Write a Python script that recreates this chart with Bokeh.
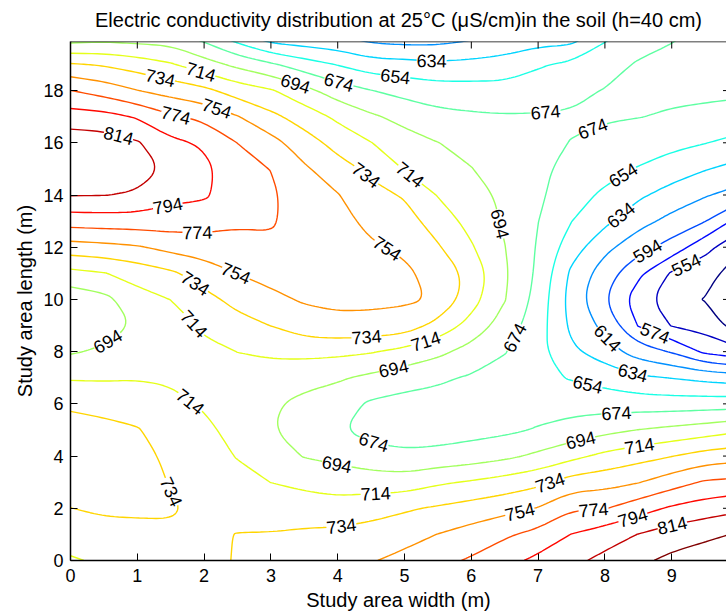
import math
import numpy as np
import contourpy
from bokeh.plotting import figure
from bokeh.models import Range1d, FixedTicker, ColumnDataSource, Span
from bokeh.embed import file_html
from bokeh.resources import INLINE
from bokeh.core.properties import value

# ---------------- data ----------------
TITLE = "Electric conductivity distribution at 25\u00b0C (\u03bcS/cm)in the soil (h=40 cm)"
x_pos = [0.0, 0.5, 1.0, 1.5, 2.0, 2.5, 3.0, 3.5, 4.0, 4.5, 5.0,
         5.5, 6.0, 6.5, 7.0, 7.5, 8.0, 8.5, 9.0, 9.5, 10.0]
y_pos = [0, 1, 2, 3, 4, 5, 6, 7, 8, 9, 10, 11, 12, 13, 14, 15, 16, 17, 18, 19, 20]
levels = [534, 554, 574, 594, 614, 634, 654, 674, 694, 714, 734, 754, 774, 794, 814, 834]
x_ticks = [0, 1, 2, 3, 4, 5, 6, 7, 8, 9]
y_ticks = [0, 2, 4, 6, 8, 10, 12, 14, 16, 18]

# EC (uS/cm) along each x position, listed for y = 0 .. 20 m
col_x0_0 = [712, 723, 733.8, 740, 742, 739, 732, 712, 692, 680, 681, 708, 745.5, 783, 815, 833, 826, 803, 774.2, 736, 685]
col_x0_5 = [717, 727, 737, 742, 744, 740, 727, 712, 697, 686, 688, 713, 748, 784.5, 814.5, 829, 824, 801, 765.5, 732, 688]
col_x1_0 = [721, 729, 737, 742, 743, 735.5, 724, 713, 705, 696, 706, 722, 752, 784.5, 812, 822, 816, 792, 754.5, 725, 686]
col_x1_5 = [726, 731, 736, 733, 728, 723, 718, 712, 704, 703, 714.3, 730.5, 760, 784, 800, 810, 799, 777, 746, 716, 685]
col_x2_0 = [730, 731, 729, 726, 722, 718, 712, 707, 709, 717.5, 728, 743, 764, 782, 797, 799, 791, 769, 739, 702.5, 669]
col_x2_5 = [735, 734.5, 727.5, 720, 713, 708, 705, 708, 714.2, 727, 740, 754.3, 767, 777, 782, 781, 773.8, 755, 725, 689, 646]
col_x3_0 = [739, 735, 724.5, 713.8, 703, 695.5, 697, 706, 717, 734.3, 749.5, 760, 769, 777, 778, 773.5, 761, 739, 716, 677, 625]
col_x3_5 = [743.5, 737, 724, 709, 693, 683, 688, 701.5, 719, 745, 756, 760, 762, 762, 760, 757, 743, 725, 700, 663.5, 621]
col_x4_0 = [748, 738.5, 723, 704.5, 689, 676, 682.5, 696.5, 718.5, 749, 758, 760, 760.5, 759, 755, 742, 727, 710, 684, 653, 618]
col_x4_5 = [752.5, 741.5, 726.5, 704, 682, 667, 671, 689.5, 715.5, 748, 758, 758, 756, 750, 740.5, 729.5, 714.5, 697, 674.5, 643, 608]
col_x5_0 = [760, 746.5, 731.5, 703.5, 678.5, 663, 667, 683, 708, 745, 757, 756.5, 751.5, 742, 732, 713, 702, 688, 667.5, 641, 605]
col_x5_5 = [768, 754.4, 736.5, 711, 680.5, 664, 667, 677, 699, 727, 752, 749, 736, 725, 713, 703.5, 694.3, 680, 663, 638, 606]
col_x6_0 = [776.5, 762, 742, 716, 684, 667, 666, 672, 686.5, 707, 722, 727, 716, 707.5, 701.5, 694.5, 689, 677, 662, 639.5, 612]
col_x6_5 = [787, 771, 747.5, 722, 689.5, 670, 664, 667, 675, 685, 695, 697, 694.5, 691.5, 690, 686, 684, 675.5, 661.5, 642, 620]
col_x7_0 = [799, 780, 755, 729, 698, 675.6, 666, 658.6, 660, 663, 666.4, 670, 672, 674.3, 678, 679, 678, 675.5, 665.5, 651.5, 625]
col_x7_5 = [809, 794.5, 772, 742.5, 708.5, 681.5, 666.5, 652.5, 638, 629.5, 626, 630, 643, 654.3, 660.5, 667, 673.5, 676, 669, 658.5, 626]
col_x8_0 = [819.5, 804.5, 773, 746.5, 719, 688.5, 665.5, 646, 623.5, 608, 595, 603, 619.5, 638.5, 651, 660, 668, 676, 675, 664.5, 652]
col_x8_5 = [829.5, 814.5, 785.5, 753, 726.5, 694.4, 664.5, 637.5, 604.5, 573, 563, 578.5, 601.5, 621, 637.5, 652.8, 663.7, 674.5, 678, 676.5, 663]
col_x9_0 = [839, 823.5, 797, 765, 733.4, 699, 663.8, 633.3, 592.2, 553, 542, 551.5, 586, 608, 626, 644, 659.5, 672, 678, 678, 673]
col_x9_5 = [845, 829.5, 804, 776.5, 742.4, 704, 664.4, 628.4, 569.8, 546.3, 533, 542, 560.3, 594.6, 615.7, 635.2, 654.6, 669.5, 678, 680, 678]
col_x10_0 = [853, 835.7, 809.9, 779.2, 746.3, 710.6, 665.3, 624.2, 560.1, 524, 514, 523, 538.7, 567.1, 606.5, 627.5, 647.7, 667.3, 677, 681, 681]

columns = [col_x0_0, col_x0_5, col_x1_0, col_x1_5, col_x2_0, col_x2_5, col_x3_0,
           col_x3_5, col_x4_0, col_x4_5, col_x5_0, col_x5_5, col_x6_0, col_x6_5,
           col_x7_0, col_x7_5, col_x8_0, col_x8_5, col_x9_0, col_x9_5, col_x10_0]

# ---------------- layout ----------------
W, H = 726, 614
BL, BR, BT, BB = 70, 0, 41, 54
X_END, Y_END = 9.82, 19.88
FW, FH = W - BL - BR, H - BT - BB
KX, KY = FW / X_END, FH / Y_END
FONT = "Liberation Sans"
TICK = 7.0


def jet(t):
    t = min(max(t, 0.0), 1.0)
    r = min(max(min(4 * t - 1.5, -4 * t + 4.5), 0), 1)
    g = min(max(min(4 * t - 0.5, -4 * t + 3.5), 0), 1)
    b = min(max(min(4 * t + 0.5, -4 * t + 2.5), 0), 1)
    return "#%02x%02x%02x" % (int(round(r * 255)), int(round(g * 255)), int(round(b * 255)))


def smooth_path(pts, iters=3):
    """Chaikin corner cutting of a drawn contour path (end points kept)."""
    pts = np.asarray(pts, dtype=float)
    closed = len(pts) > 3 and np.allclose(pts[0], pts[-1])
    for _ in range(iters):
        if len(pts) < 3:
            break
        if closed:
            P = pts[:-1]
            N = np.roll(P, -1, axis=0)
            Q = 0.75 * P + 0.25 * N
            R = 0.25 * P + 0.75 * N
            new = np.empty((2 * len(P), 2))
            new[0::2], new[1::2] = Q, R
            pts = np.vstack([new, new[:1]])
        else:
            P, N = pts[:-1], pts[1:]
            Q = 0.75 * P + 0.25 * N
            R = 0.25 * P + 0.75 * N
            new = np.empty((2 * len(P), 2))
            new[0::2], new[1::2] = Q, R
            pts = np.vstack([pts[:1], new[1:-1], pts[-1:]])
    return pts


Z = np.array(columns, dtype=float).T  # rows = y, cols = x
gen = contourpy.contour_generator(np.array(x_pos), np.array(y_pos, dtype=float), Z,
                                  name="serial", line_type="Separate")

line_xs, line_ys, line_cols = [], [], []
lab = {"x": [], "y": [], "text": [], "angle": []}
placed = []
SPACING = 240.0


def dir_at(s, sx, sy, t0, t1):
    L = s[-1]
    t0, t1 = max(t0, 0.0), min(t1, L)
    return math.atan2(np.interp(t1, s, sy) - np.interp(t0, s, sy),
                      np.interp(t1, s, sx) - np.interp(t0, s, sx))


for lev in levels:
    col = jet((lev - 534.0) / 300.0)
    for raw in gen.lines(lev):
        if len(raw) < 2:
            continue
        seg = smooth_path(raw)
        line_xs.append(seg[:, 0].tolist())
        line_ys.append(seg[:, 1].tolist())
        line_cols.append(col)
        ok = (seg[:, 0] > 0.2) & (seg[:, 0] < X_END - 0.3) & (seg[:, 1] > 0.4) & (seg[:, 1] < Y_END - 0.4)
        runs, cur = [], []
        for pt, good in zip(seg, ok):
            if good:
                cur.append(pt)
            else:
                if len(cur) > 1:
                    runs.append(np.array(cur))
                cur = []
        if len(cur) > 1:
            runs.append(np.array(cur))
        for r in runs:
            sx, sy = r[:, 0] * KX, r[:, 1] * KY
            d = np.hypot(np.diff(sx), np.diff(sy))
            s = np.concatenate([[0.0], np.cumsum(d)])
            L = s[-1]
            if L < 45:
                continue
            n = max(1, int(round(L / SPACING)))
            for k in range(n):
                tt = (k + 0.5) * L / n
                lo, hi = max(tt - 80, min(18, L / 2)), min(tt + 80, max(L - 18, L / 2))
                best = None
                for t in np.linspace(lo, hi, 25):
                    a1 = dir_at(s, sx, sy, t - 18, t)
                    a2 = dir_at(s, sx, sy, t, t + 18)
                    bend = abs((a2 - a1 + math.pi) % (2 * math.pi) - math.pi)
                    cx, cy = np.interp(t, s, sx), np.interp(t, s, sy)
                    crowd = 0.0
                    for (qx, qy) in placed:
                        dd = math.hypot(cx - qx, cy - qy)
                        if dd < 40:
                            crowd += (40 - dd) * 0.05
                    score = bend + 0.004 * abs(t - tt) + crowd
                    if best is None or score < best[0]:
                        best = (score, t, cx, cy)
                _, t, cx, cy = best
                ang = dir_at(s, sx, sy, t - 14, t + 14)
                if ang > math.pi / 2:
                    ang -= math.pi
                if ang < -math.pi / 2:
                    ang += math.pi
                placed.append((cx, cy))
                lab["x"].append(cx / KX)
                lab["y"].append(cy / KY)
                lab["text"].append(str(lev))
                lab["angle"].append(ang)

p = figure(width=W, height=H, x_range=Range1d(0, X_END), y_range=Range1d(0, Y_END),
           output_backend="svg", toolbar_location=None,
           min_border_left=BL, min_border_right=BR, min_border_top=0, min_border_bottom=BB,
           title=TITLE)
p.background_fill_color = "white"
p.border_fill_color = "white"
p.outline_line_color = None
p.grid.visible = False

p.title.text_font = FONT
p.title.text_font_size = "20px"
p.title.text_font_style = "normal"
p.title.align = "center"
p.title.text_color = "black"
p.title.vertical_align = "top"
p.title.standoff = 17

p.multi_line(xs=line_xs, ys=line_ys, line_color=line_cols, line_width=1.4)

lsrc = ColumnDataSource(lab)
p.text(x="x", y="y", text="text", angle="angle", source=lsrc,
       text_font=value(FONT), text_font_size="18px", text_align="center",
       text_baseline="middle", text_color="black",
       background_fill_color="white", padding=0)

# top border line with inward ticks, and short right-edge ticks
p.add_layout(Span(location=Y_END, dimension="width", line_color="black", line_width=1.5))
p.segment(x0=x_ticks, y0=[Y_END] * len(x_ticks), x1=x_ticks,
          y1=[Y_END - TICK / KY] * len(x_ticks), line_color="black", line_width=1)
p.segment(x0=[X_END - 3.5 / KX] * len(y_ticks), y0=y_ticks, x1=[X_END] * len(y_ticks),
          y1=y_ticks, line_color="black", line_width=1)

for ax in (p.xaxis[0], p.yaxis[0]):
    ax.major_tick_in = int(TICK)
    ax.major_tick_out = 0
    ax.minor_tick_line_color = None
    ax.axis_line_color = "black"
    ax.axis_line_width = 1.5
    ax.major_tick_line_color = "black"
    ax.major_label_text_font = FONT
    ax.major_label_text_font_size = "18px"
    ax.major_label_text_color = "black"
    ax.axis_label_text_font = FONT
    ax.axis_label_text_font_size = "20px"
    ax.axis_label_text_font_style = "normal"
    ax.axis_label_text_color = "black"

p.xaxis[0].ticker = FixedTicker(ticks=x_ticks)
p.yaxis[0].ticker = FixedTicker(ticks=y_ticks)
p.xaxis[0].axis_label = "Study area width (m)"
p.yaxis[0].axis_label = "Study area length (m)"
p.xaxis[0].major_label_standoff = 8
p.xaxis[0].axis_label_standoff = 4
p.yaxis[0].major_label_standoff = 7
p.yaxis[0].axis_label_standoff = 4

open("out.html", "w").write(file_html(p, INLINE))
